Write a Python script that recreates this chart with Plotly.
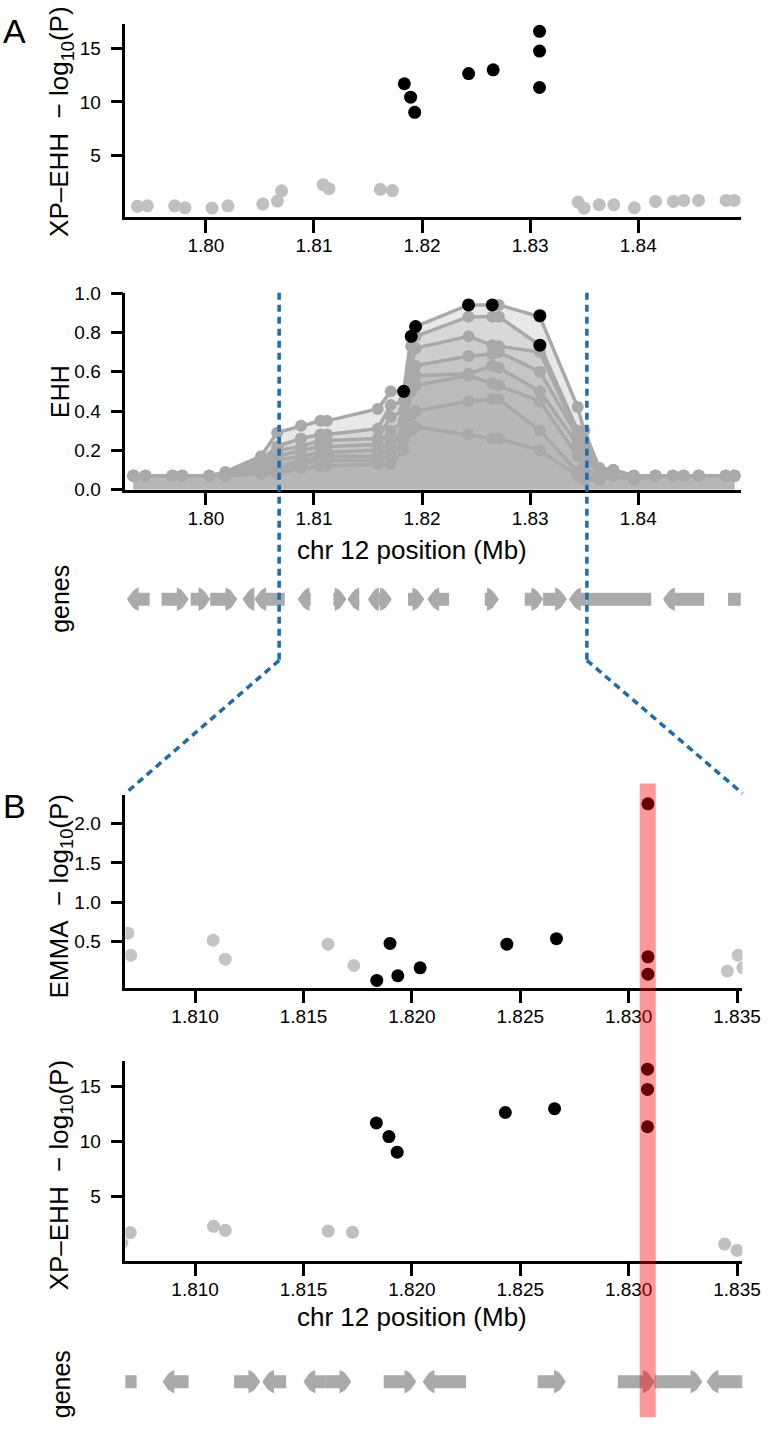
import plotly.graph_objects as go

W, H = 780, 1443

# ---------------- data ----------------
# XP-EHH SNPs (chr 12, Mb)
xp_pos_gray = [1.79367, 1.79458, 1.79711, 1.79807, 1.80057, 1.80204, 1.80527, 1.80662, 1.80701,
               1.81085, 1.81139, 1.81614, 1.81726, 1.83443, 1.83500, 1.83639, 1.83774, 1.83964,
               1.84160, 1.84325, 1.84422, 1.84558, 1.84813, 1.84889]
xp_val_gray = [0.25, 0.30, 0.30, 0.12, 0.09, 0.30, 0.46, 0.74, 1.70,
               2.27, 1.90, 1.84, 1.72, 0.65, 0.08, 0.40, 0.40, 0.12,
               0.71, 0.71, 0.80, 0.80, 0.80, 0.80]
xp_pos_top = [1.81836, 1.81894, 1.81932, 1.82431, 1.82658, 1.83087, 1.83087, 1.83087]
xp_val_top = [11.7, 10.45, 9.03, 12.65, 13.0, 16.6, 14.75, 11.35]

# EHH decay (haplotype curves)
ehh_pos = [1.7933, 1.7944, 1.7969, 1.7978, 1.8003, 1.8018, 1.8051, 1.8066, 1.8088, 1.8106,
           1.8112, 1.8159, 1.8171, 1.8183, 1.8190, 1.8194, 1.8243, 1.8265, 1.8271, 1.8309,
           1.8344, 1.8350, 1.8364, 1.8377, 1.8396, 1.8416, 1.8432, 1.8442, 1.8456, 1.8481, 1.8489]
ehh_hap1 = [0.07, 0.07, 0.07, 0.07, 0.07, 0.09, 0.17, 0.29, 0.325, 0.35, 0.35, 0.41, 0.50, 0.50, 0.78, 0.83,
            0.94, 0.94, 0.94, 0.88, 0.42, 0.30, 0.11, 0.10, 0.07, 0.07, 0.07, 0.07, 0.07, 0.07, 0.07]
ehh_hap2 = [0.07, 0.07, 0.07, 0.07, 0.07, 0.08, 0.15, 0.22, 0.26, 0.28, 0.28, 0.31, 0.43, 0.45, 0.73, 0.78,
            0.88, 0.88, 0.88, 0.735, 0.30, 0.25, 0.11, 0.10, 0.07, 0.07, 0.07, 0.07, 0.07, 0.07, 0.07]
ehh_hap3 = [0.07, 0.07, 0.07, 0.07, 0.07, 0.07, 0.13, 0.20, 0.22, 0.25, 0.25, 0.26, 0.37, 0.40, 0.63, 0.72,
            0.78, 0.735, 0.73, 0.70, 0.28, 0.23, 0.10, 0.10, 0.07, 0.07, 0.07, 0.07, 0.07, 0.07, 0.07]
ehh_hap4 = [0.07, 0.07, 0.07, 0.07, 0.07, 0.07, 0.12, 0.17, 0.20, 0.22, 0.22, 0.23, 0.30, 0.35, 0.58, 0.63,
            0.68, 0.69, 0.70, 0.60, 0.27, 0.20, 0.08, 0.08, 0.05, 0.07, 0.07, 0.07, 0.07, 0.07, 0.07]
ehh_hap5 = [0.07, 0.07, 0.07, 0.07, 0.07, 0.07, 0.11, 0.15, 0.17, 0.19, 0.19, 0.20, 0.25, 0.30, 0.53, 0.58,
            0.59, 0.63, 0.62, 0.50, 0.23, 0.17, 0.08, 0.08, 0.05, 0.07, 0.07, 0.07, 0.07, 0.07, 0.07]
ehh_hap6 = [0.07, 0.07, 0.07, 0.07, 0.07, 0.07, 0.10, 0.12, 0.15, 0.17, 0.17, 0.17, 0.22, 0.28, 0.50, 0.53,
            0.58, 0.54, 0.53, 0.45, 0.17, 0.12, 0.06, 0.07, 0.05, 0.07, 0.07, 0.07, 0.07, 0.07, 0.07]
ehh_hap7 = [0.07, 0.07, 0.07, 0.07, 0.07, 0.07, 0.09, 0.10, 0.13, 0.15, 0.15, 0.15, 0.17, 0.25, 0.38, 0.40,
            0.45, 0.46, 0.46, 0.30, 0.09, 0.08, 0.05, 0.07, 0.05, 0.07, 0.07, 0.07, 0.07, 0.07, 0.07]
ehh_hap8 = [0.07, 0.07, 0.07, 0.07, 0.07, 0.07, 0.08, 0.08, 0.11, 0.12, 0.12, 0.13, 0.13, 0.20, 0.30, 0.32,
            0.28, 0.26, 0.26, 0.20, 0.07, 0.05, 0.05, 0.07, 0.05, 0.07, 0.07, 0.07, 0.07, 0.07, 0.07]
ehh_core_pos = [1.8183, 1.8190, 1.8194, 1.8243, 1.8265, 1.8309, 1.8309]
ehh_core_val = [0.50, 0.78, 0.83, 0.94, 0.94, 0.885, 0.735]

# EMMA association
emma_pos_gray = [1.80690, 1.80703, 1.81083, 1.81139, 1.81613, 1.81732, 1.83455, 1.83505, 1.83527]
emma_val_gray = [0.61, 0.33, 0.52, 0.28, 0.47, 0.20, 0.13, 0.33, 0.17]
emma_pos_top = [1.81838, 1.81899, 1.81935, 1.82038, 1.82438, 1.82667, 1.83089, 1.83089, 1.83089]
emma_val_top = [0.01, 0.48, 0.07, 0.17, 0.47, 0.54, 2.25, 0.31, 0.09]

# genes
gene_start = [1.7927, 1.7959, 1.7986, 1.8004, 1.8034, 1.8045, 1.8085, 1.8118, 1.8131, 1.8150,
              1.8160, 1.8187, 1.8205, 1.8258, 1.8295, 1.8312, 1.8336, 1.8352, 1.8423, 1.8483]
gene_end = [1.7948, 1.7984, 1.8004, 1.8029, 1.8045, 1.8073, 1.8097, 1.8130, 1.8142, 1.8160,
            1.8172, 1.8202, 1.8225, 1.8271, 1.8312, 1.8334, 1.8352, 1.8412, 1.8461, 1.8500]
gene_strand = [-1, 1, 1, 1, -1, -1, -1, 1, -1, -1, 1, 1, -1, 1, 1, 1, -1, 0, -1, 0]

highlight_snp = 1.83088
highlight_halfwidth = 0.00037

xticks_A = [1.80, 1.81, 1.82, 1.83, 1.84]
xticks_B = [1.810, 1.815, 1.820, 1.825, 1.830, 1.835]
range_A = [1.79255, 1.84949]
range_B = [1.80678, 1.83525]

# ---------------- layout helpers ----------------
def py(p):
    return 1 - p / H

def px(p):
    return p / W

XL, XR_A, XR_B = 128.3, 758.3, 760.0
GRAY_PT = "#c0c0c0"
GRAY_EHH = "#a9a9a9"
GENE_GRAY = "#aaaaaa"
FONT = "Liberation Sans, Arial, Helvetica, sans-serif"

fig = go.Figure()

# ---- A: XP-EHH ----
fig.add_trace(go.Scatter(x=xp_pos_gray, y=xp_val_gray, mode="markers",
                         marker=dict(size=13, color=GRAY_PT), xaxis="x", yaxis="y"))
fig.add_trace(go.Scatter(x=xp_pos_top, y=xp_val_top, mode="markers",
                         marker=dict(size=13, color="black"), xaxis="x", yaxis="y"))

# ---- A: EHH ----
for hap in [ehh_hap1, ehh_hap2, ehh_hap3, ehh_hap4, ehh_hap5, ehh_hap6, ehh_hap7, ehh_hap8]:
    fig.add_trace(go.Scatter(x=ehh_pos, y=hap, mode="lines+markers", fill="tozeroy",
                             fillcolor="rgba(180,180,180,0.3)",
                             line=dict(color=GRAY_EHH, width=3.5),
                             marker=dict(size=12, color=GRAY_EHH), xaxis="x2", yaxis="y2"))
fig.add_trace(go.Scatter(x=ehh_core_pos, y=ehh_core_val, mode="markers",
                         marker=dict(size=13, color="black"), xaxis="x2", yaxis="y2"))

# ---- genes ----
def add_genes(xa, ya, px_per_mb):
    hl_mb = 12.0 / px_per_mb
    b, h = 0.33, 0.6
    n = 8
    for s, e, st in zip(gene_start, gene_end, gene_strand):
        hl = min(hl_mb, e - s)
        if st == 0:
            xs = [s, e, e, s, s]
            ys = [-b, -b, b, b, -b]
        else:
            # arrow head with convex sides, tip at the 3' end (built for + strand, mirrored for -)
            L = e - s
            head_top = [(L - hl + hl * (t / n) ** 0.6, h * (1 - t / n)) for t in range(n + 1)]
            lower = [(xx, -yy) for xx, yy in head_top]
            upper = list(reversed(head_top))[1:]
            pts = [(0, -b), (L - hl, -b)] + lower + upper + [(L - hl, b), (0, b), (0, -b)]
            if st == 1:
                xs = [s + p[0] for p in pts]
            else:
                xs = [e - p[0] for p in pts]
            ys = [p[1] for p in pts]
        fig.add_trace(go.Scatter(x=xs, y=ys, mode="lines", fill="toself", fillcolor=GENE_GRAY,
                                 line=dict(width=0, color=GENE_GRAY), xaxis=xa, yaxis=ya,
                                 hoverinfo="skip"))

add_genes("x3", "y3", (XR_A - XL) / (range_A[1] - range_A[0]))

# ---- B: EMMA ----
fig.add_trace(go.Scatter(x=emma_pos_gray, y=emma_val_gray, mode="markers",
                         marker=dict(size=13, color="#c4c4c4"), xaxis="x4", yaxis="y4"))
fig.add_trace(go.Scatter(x=emma_pos_top, y=emma_val_top, mode="markers",
                         marker=dict(size=13, color="black"), xaxis="x4", yaxis="y4"))

# ---- B: XP-EHH ----
fig.add_trace(go.Scatter(x=xp_pos_gray, y=xp_val_gray, mode="markers",
                         marker=dict(size=13, color=GRAY_PT), xaxis="x5", yaxis="y5"))
fig.add_trace(go.Scatter(x=xp_pos_top, y=xp_val_top, mode="markers",
                         marker=dict(size=13, color="black"), xaxis="x5", yaxis="y5"))

add_genes("x6", "y6", (XR_B - XL) / (range_B[1] - range_B[0]))

# ---------------- axes ----------------
tickfont = dict(family=FONT, size=19, color="black")
axstyle = dict(showline=True, linecolor="black", linewidth=2.5, ticks="outside", ticklen=13,
               tickwidth=2.5, tickcolor="black", showgrid=False, zeroline=False, tickfont=tickfont,
               ticklabelstandoff=-3)
ystyle = dict(axstyle, ticklen=12, ticklabelstandoff=6)
hidden = dict(visible=False, showgrid=False, zeroline=False, fixedrange=True)

domA = [px(XL), px(XR_A)]
domB = [px(XL), px(XR_B)]

fig.update_layout(
    xaxis=dict(domain=domA, range=range_A, anchor="y", tickvals=xticks_A,
               ticktext=[f"{v:.2f}" for v in xticks_A], **axstyle),
    yaxis=dict(domain=[py(210), py(14)], range=[-0.74, 17.3], anchor="x",
               tickvals=[5, 10, 15], **ystyle),
    xaxis2=dict(domain=domA, range=range_A, anchor="y2", tickvals=xticks_A,
                ticktext=[f"{v:.2f}" for v in xticks_A], **axstyle),
    yaxis2=dict(domain=[py(486.7), py(287.3)], range=[0, 1], anchor="x2",
                tickvals=[0, 0.2, 0.4, 0.6, 0.8, 1.0], tickformat=".1f", **ystyle),
    xaxis3=dict(domain=domA, range=range_A, anchor="y3", **hidden),
    yaxis3=dict(domain=[py(618), py(578)], range=[-1, 1], anchor="x3", **hidden),
    xaxis4=dict(domain=domB, range=range_B, anchor="y4", tickvals=xticks_B,
                ticktext=[f"{v:.3f}" for v in xticks_B], **axstyle),
    yaxis4=dict(domain=[py(992), py(796.7)], range=[-0.08, 2.36], anchor="x4",
                tickvals=[0.5, 1.0, 1.5, 2.0], tickformat=".1f", **ystyle),
    xaxis5=dict(domain=domB, range=range_B, anchor="y5", tickvals=xticks_B,
                ticktext=[f"{v:.3f}" for v in xticks_B], **axstyle),
    yaxis5=dict(domain=[py(1269), py(1067)], range=[-0.85, 17.3], anchor="x5",
                tickvals=[5, 10, 15], **ystyle),
    xaxis6=dict(domain=domB, range=range_B, anchor="y6", **hidden),
    yaxis6=dict(domain=[py(1412), py(1372)], range=[-1, 1], anchor="x6", **hidden),
)

# ---------------- annotations ----------------
ann = []
GAP = "\u00a0\u00a0−\u00a0"
def ytitle(text, ycenter, size=25):
    ann.append(dict(text=text, x=px(62), y=py(ycenter), xref="paper", yref="paper",
                    textangle=-90, showarrow=False,
                    font=dict(family=FONT, size=size, color="black"),
                    xanchor="center", yanchor="middle"))

ytitle("XP–EHH" + GAP + "log<sub>10</sub>(P)", 113, 26)
ytitle("EHH", 387)
ytitle("genes", 598)
ytitle("EMMA" + GAP + "log<sub>10</sub>(P)", 900, 26)
ytitle("XP–EHH" + GAP + "log<sub>10</sub>(P)", 1182, 26)
ytitle("genes", 1395)

for yc in [548, 1326]:
    ann.append(dict(text="chr 12 position (Mb)", x=px(422), y=py(yc), xref="paper", yref="paper",
                    showarrow=False, font=dict(family=FONT, size=26, color="black"),
                    xanchor="center", yanchor="middle"))

ann.append(dict(text="A", x=px(15), y=py(21), xref="paper", yref="paper", showarrow=False,
                font=dict(family=FONT, size=34, color="black"), xanchor="center", yanchor="middle"))
ann.append(dict(text="B", x=px(15), y=py(808), xref="paper", yref="paper", showarrow=False,
                font=dict(family=FONT, size=34, color="black"), xanchor="center", yanchor="middle"))

# ---------------- shapes ----------------
def data_to_paper_A(v):
    return domA[0] + (v - range_A[0]) / (range_A[1] - range_A[0]) * (domA[1] - domA[0])

BLUE = "#1a6eb0"
dash = dict(color=BLUE, width=3.5, dash="7px,5px")
shapes = []
y_top, y_knee, y_end = py(287), py(660), py(795)
for v, xend in [(range_B[0], domB[0]), (range_B[1], domB[1])]:
    shapes.append(dict(type="line", xref="x2", yref="paper", x0=v, x1=v, y0=y_top, y1=y_knee,
                       line=dash, layer="above"))
    shapes.append(dict(type="line", xref="paper", yref="paper", x0=data_to_paper_A(v), x1=xend,
                       y0=y_knee, y1=y_end, line=dash, layer="above"))

shapes.append(dict(type="rect", xref="x4", yref="paper",
                   x0=highlight_snp - highlight_halfwidth, x1=highlight_snp + highlight_halfwidth,
                   y0=py(1428), y1=py(785), fillcolor="rgba(255,0,0,0.4)",
                   line=dict(width=0), layer="above"))

fig.update_layout(
    width=W, height=H, autosize=False,
    margin=dict(l=0, r=0, t=0, b=0),
    paper_bgcolor="white", plot_bgcolor="rgba(0,0,0,0)",
    showlegend=False, annotations=ann, shapes=shapes,
    font=dict(family=FONT, color="black"),
)

page_css = "document.documentElement.style.margin='0';document.body.style.margin='0';"
fig.write_html("out.html", post_script=page_css, config={"displayModeBar": False})
